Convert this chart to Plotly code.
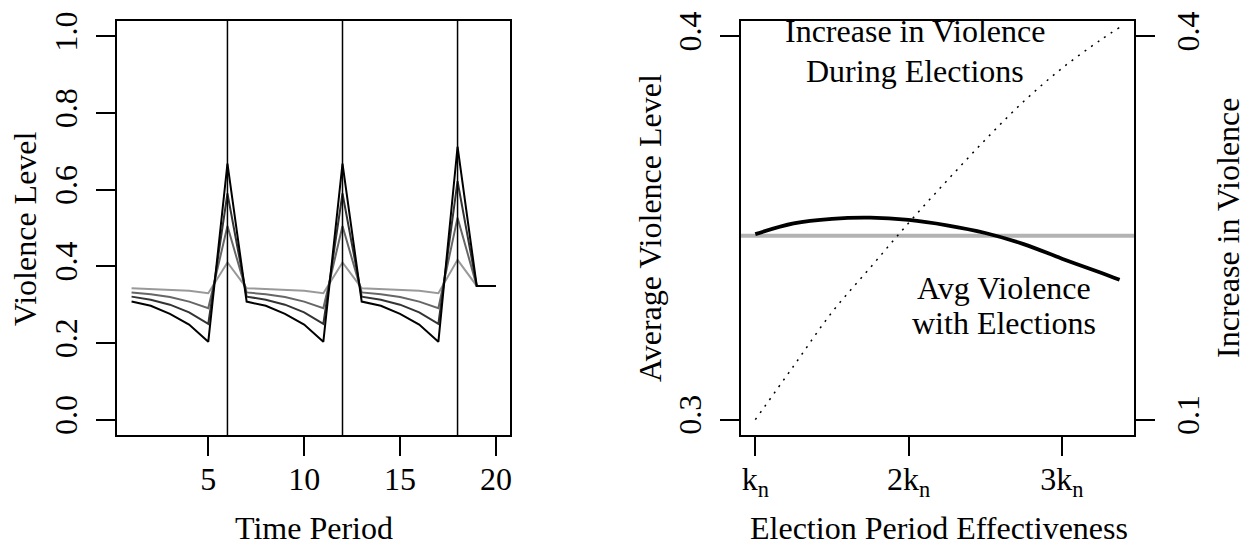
import plotly.graph_objects as go

# ---------------- data ----------------
periods = list(range(1, 21))
v_light = [0.343, 0.341, 0.339, 0.336, 0.330, 0.410,
           0.343, 0.341, 0.339, 0.336, 0.330, 0.410,
           0.343, 0.341, 0.339, 0.336, 0.330, 0.417,
           0.349, 0.349]
v_mid = [0.332, 0.327, 0.320, 0.308, 0.291, 0.505,
         0.332, 0.327, 0.320, 0.308, 0.291, 0.505,
         0.332, 0.327, 0.320, 0.308, 0.291, 0.527,
         0.349, 0.349]
v_dark = [0.321, 0.313, 0.300, 0.280, 0.250, 0.590,
          0.321, 0.313, 0.300, 0.280, 0.250, 0.590,
          0.321, 0.313, 0.300, 0.280, 0.250, 0.622,
          0.349, 0.349]
v_black = [0.308, 0.297, 0.276, 0.248, 0.203, 0.668,
           0.308, 0.297, 0.276, 0.248, 0.203, 0.668,
           0.308, 0.297, 0.276, 0.248, 0.203, 0.712,
           0.349, 0.349]
election_periods = [6, 12, 18]
left_xticks = [5, 10, 15, 20]
left_yticks = [0.0, 0.2, 0.4, 0.6, 0.8, 1.0]
left_yticklabels = ["0.0", "0.2", "0.4", "0.6", "0.8", "1.0"]

effectiveness = [1.0, 1.25, 1.5, 1.75, 2.0, 2.25, 2.5, 2.75, 3.0, 3.25, 3.376]
avg_violence = [0.3484, 0.3512, 0.3524, 0.3527, 0.3521, 0.3507, 0.3487,
                0.3458, 0.3420, 0.3384, 0.3365]
increase_violence = [0.100, 0.142, 0.184, 0.219, 0.254, 0.287, 0.319,
                     0.349, 0.375, 0.397, 0.407]
baseline_violence = 0.348
right_xticks = [1, 2, 3]
right_xticklabels = ["k<sub>n</sub>", "2k<sub>n</sub>", "3k<sub>n</sub>"]
right_yticks = [0.3, 0.4]
right_y2ticks = [0.1, 0.4]

# ---------------- figure ----------------
FONT = "'Liberation Serif', 'Times New Roman', Times, 'DejaVu Serif', serif"
FS = 32
fig = go.Figure()

series = [(v_light, "#999999"), (v_mid, "#666666"), (v_dark, "#333333"), (v_black, "#000000")]
for vals, col in series:
    fig.add_trace(go.Scatter(x=periods, y=vals, mode="lines",
                             line=dict(color=col, width=2), xaxis="x", yaxis="y",
                             showlegend=False))

for p in election_periods:
    fig.add_shape(type="line", xref="x", yref="y domain", x0=p, x1=p, y0=0, y1=1,
                  line=dict(color="black", width=1.5))

# right panel
fig.add_shape(type="line", xref="x2 domain", yref="y2", x0=0, x1=1,
              y0=baseline_violence, y1=baseline_violence,
              line=dict(color="#b3b3b3", width=4), layer="below")
fig.add_trace(go.Scatter(x=effectiveness, y=avg_violence, mode="lines",
                         line=dict(color="black", width=3.8, shape="spline"),
                         xaxis="x2", yaxis="y2", showlegend=False))
fig.add_trace(go.Scatter(x=effectiveness, y=increase_violence, mode="lines",
                         line=dict(color="black", width=1.5, dash="2px,6px", shape="spline"),
                         xaxis="x2", yaxis="y3", showlegend=False))

axis_common = dict(showgrid=False, zeroline=False, showline=True, linecolor="black",
                   linewidth=2, ticks="outside", ticklen=19, tickwidth=2,
                   tickcolor="black", tickfont=dict(family=FONT, size=FS, color="black"))

fig.update_layout(
    width=1251, height=550,
    margin=dict(l=117, r=117, t=13, b=115),
    paper_bgcolor="white", plot_bgcolor="white",
    font=dict(family=FONT, size=FS, color="black"),
    xaxis=dict(domain=[0, 0.3869], range=[0.24, 20.76], tickvals=left_xticks,
               mirror=True, anchor="y", ticklabelstandoff=-4, **axis_common),
    yaxis=dict(domain=[0, 1], range=[-0.04, 1.04], tickvals=left_yticks,
               ticktext=left_yticklabels, tickangle=-90, mirror=True, anchor="x",
               ticklabelstandoff=6, **axis_common),
    xaxis2=dict(domain=[0.6133, 1], range=[0.905, 3.47], tickvals=right_xticks,
                ticktext=right_xticklabels, mirror=True, anchor="y2",
                ticklabelstandoff=-4, **axis_common),
    yaxis2=dict(domain=[0, 1], range=[0.296, 0.404], tickvals=right_yticks,
                ticktext=["0.3", "0.4"], tickangle=-90, anchor="x2",
                ticklabelstandoff=6, **axis_common),
    yaxis3=dict(range=[0.088, 0.412], tickvals=right_y2ticks, ticktext=["0.1", "0.4"],
                tickangle=-90, overlaying="y2", side="right", anchor="x2",
                ticklabelstandoff=6, **axis_common),
)

ann_font = dict(family=FONT, size=FS, color="black")
annotations = [
    dict(text="Violence Level", x=-0.0905, y=0.5, xref="paper", yref="paper",
         textangle=-90, showarrow=False, font=ann_font, xanchor="center", yanchor="middle"),
    dict(text="Time Period", x=0.1934, y=-0.2251, xref="paper", yref="paper",
         showarrow=False, font=ann_font, xanchor="center", yanchor="middle"),
    dict(text="Average Violence Level", x=0.5241, y=0.5, xref="paper", yref="paper",
         textangle=-90, showarrow=False, font=ann_font, xanchor="center", yanchor="middle"),
    dict(text="Increase in Violence", x=1.0924, y=0.5, xref="paper", yref="paper",
         textangle=-90, showarrow=False, font=ann_font, xanchor="center", yanchor="middle"),
    dict(text="Election Period Effectiveness", x=0.8083, y=-0.2251, xref="paper", yref="paper",
         showarrow=False, font=ann_font, xanchor="center", yanchor="middle"),
    dict(text="Increase in Violence", x=2.04, y=0.4015, xref="x2", yref="y2",
         showarrow=False, font=ann_font, xanchor="center", yanchor="middle"),
    dict(text="During Elections", x=2.04, y=0.3910, xref="x2", yref="y2",
         showarrow=False, font=ann_font, xanchor="center", yanchor="middle"),
    dict(text="Avg Violence", x=2.62, y=0.3343, xref="x2", yref="y2",
         showarrow=False, font=ann_font, xanchor="center", yanchor="middle"),
    dict(text="with Elections", x=2.62, y=0.3251, xref="x2", yref="y2",
         showarrow=False, font=ann_font, xanchor="center", yanchor="middle"),
]
fig.update_layout(annotations=annotations)

fig.write_html("out.html")
